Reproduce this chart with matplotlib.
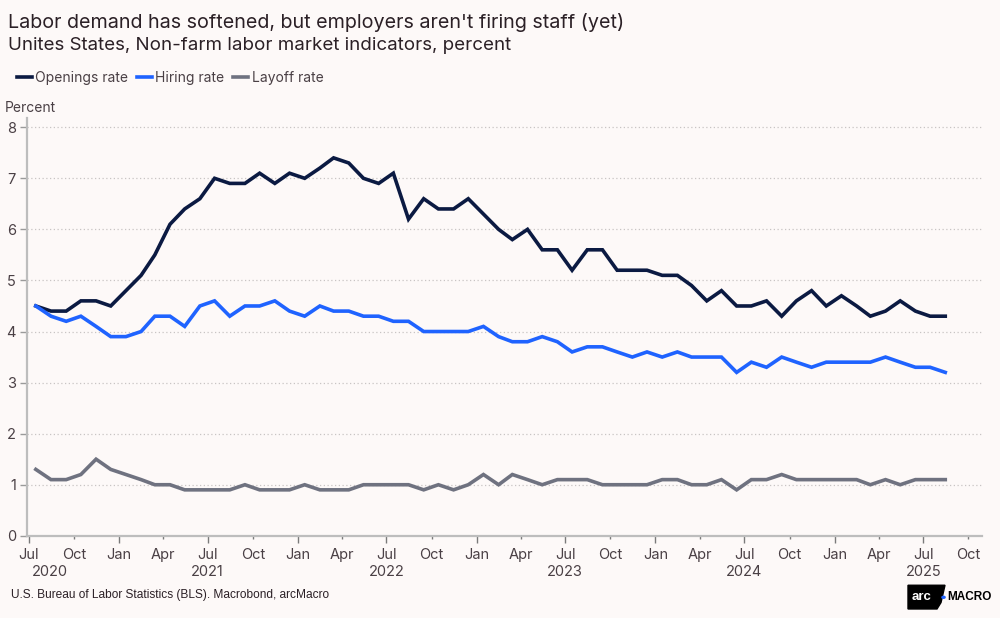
import matplotlib
matplotlib.use("Agg")
import matplotlib.pyplot as plt
import matplotlib.patches as mpatches
import matplotlib.transforms as mtransforms
import pandas as pd

# ---------------- data ----------------
start_month = "2020-07"
openings_rate = [
    4.5, 4.4, 4.4, 4.6, 4.6, 4.5,
    4.8, 5.1, 5.5, 6.1, 6.4, 6.6, 7.0, 6.9, 6.9, 7.1, 6.9, 7.1,
    7.0, 7.2, 7.4, 7.3, 7.0, 6.9, 7.1, 6.2, 6.6, 6.4, 6.4, 6.6,
    6.3, 6.0, 5.8, 6.0, 5.6, 5.6, 5.2, 5.6, 5.6, 5.2, 5.2, 5.2,
    5.1, 5.1, 4.9, 4.6, 4.8, 4.5, 4.5, 4.6, 4.3, 4.6, 4.8, 4.5,
    4.7, 4.5, 4.3, 4.4, 4.6, 4.4, 4.3, 4.3,
]
hiring_rate = [
    4.5, 4.3, 4.2, 4.3, 4.1, 3.9,
    3.9, 4.0, 4.3, 4.3, 4.1, 4.5, 4.6, 4.3, 4.5, 4.5, 4.6, 4.4,
    4.3, 4.5, 4.4, 4.4, 4.3, 4.3, 4.2, 4.2, 4.0, 4.0, 4.0, 4.0,
    4.1, 3.9, 3.8, 3.8, 3.9, 3.8, 3.6, 3.7, 3.7, 3.6, 3.5, 3.6,
    3.5, 3.6, 3.5, 3.5, 3.5, 3.2, 3.4, 3.3, 3.5, 3.4, 3.3, 3.4,
    3.4, 3.4, 3.4, 3.5, 3.4, 3.3, 3.3, 3.2,
]
layoff_rate = [
    1.3, 1.1, 1.1, 1.2, 1.5, 1.3,
    1.2, 1.1, 1.0, 1.0, 0.9, 0.9, 0.9, 0.9, 1.0, 0.9, 0.9, 0.9,
    1.0, 0.9, 0.9, 0.9, 1.0, 1.0, 1.0, 1.0, 0.9, 1.0, 0.9, 1.0,
    1.2, 1.0, 1.2, 1.1, 1.0, 1.1, 1.1, 1.1, 1.0, 1.0, 1.0, 1.0,
    1.1, 1.1, 1.0, 1.0, 1.1, 0.9, 1.1, 1.1, 1.2, 1.1, 1.1, 1.1,
    1.1, 1.1, 1.0, 1.1, 1.0, 1.1, 1.1, 1.1,
]
series_names = ["Openings rate", "Hiring rate", "Layoff rate"]
y_ticks = [0, 1, 2, 3, 4, 5, 6, 7, 8]
year_labels = ["2020", "2021", "2022", "2023", "2024", "2025"]

title = "Labor demand has softened, but employers aren't firing staff (yet)"
subtitle = "Unites States, Non-farm labor market indicators, percent"
source = "U.S. Bureau of Labor Statistics (BLS). Macrobond, arcMacro"

dates = pd.period_range(start_month, periods=len(openings_rate), freq="M").to_timestamp() + pd.Timedelta(days=14)

# ---------------- style ----------------
BG = "#fdf9f8"
TXT = "#2b2026"
TICK = "#4a4045"
colors = ["#0b1a42", "#1f63ff", "#6f7280"]
plt.rcParams["font.family"] = ["Inter", "DejaVu Sans"]

fig = plt.figure(figsize=(10, 6.18), dpi=100, facecolor=BG)
ax = fig.add_axes([0.027, 0.133, 0.955, 0.676])
ax.set_facecolor(BG)

for vals, name, c in zip([openings_rate, hiring_rate, layoff_rate], series_names, colors):
    ax.plot(dates, vals, color=c, lw=2.6, label=name, solid_joinstyle="miter")

ax.set_ylim(0, 8.18)
ax.set_xlim(pd.Timestamp("2020-06-27"), pd.Timestamp("2025-10-29"))
ax.set_yticks(y_ticks)
ax.set_yticklabels([str(v) for v in y_ticks])
ax.grid(axis="y", color="#c8c4c4", lw=0.9, ls=(0, (1, 2)))
ax.set_axisbelow(True)

for s in ["top", "right"]:
    ax.spines[s].set_visible(False)
for s in ["left", "bottom"]:
    ax.spines[s].set_color("#bdbdbd")
    ax.spines[s].set_linewidth(1.6)

ax.tick_params(axis="y", length=5, width=1, color="#9a9a9a", labelsize=10.5, labelcolor=TICK, pad=3)

# x ticks at quarters
qt = [d for d in pd.date_range("2020-07-01", "2025-10-01", freq="MS") if d.month in (1, 4, 7, 10)]
ax.set_xticks(qt)
ax.set_xticklabels([d.strftime("%b") for d in qt])
ax.tick_params(axis="x", width=1, color="#7a7a7a", labelsize=10.5, labelcolor=TICK, pad=4, length=5)
for d, t in zip(qt, ax.xaxis.get_major_ticks()):
    if d.month in (4, 10):
        t.tick1line.set_markersize(2.5)

# year labels under July ticks
trans = mtransforms.blended_transform_factory(ax.transData, ax.transAxes)
for i, yl in enumerate(year_labels):
    jul = pd.Timestamp(f"{yl}-07-01")
    if i == 0:
        off = mtransforms.offset_copy(trans, fig=fig, x=21, y=0, units="dots")
        ax.text(jul, -0.086, yl, transform=off, ha="center", va="center",
                fontsize=10.5, color=TICK, clip_on=False)
    else:
        ax.text(jul, -0.086, yl, transform=trans, ha="center", va="center",
                fontsize=10.5, color=TICK, clip_on=False)

# texts
fig.text(0.008, 0.963, title, fontsize=14.2, color=TXT, ha="left", va="center")
fig.text(0.008, 0.926, subtitle, fontsize=13.5, color=TXT, ha="left", va="center")
fig.text(0.005, 0.825, "Percent", fontsize=10, color=TICK, ha="left", va="center")
fig.text(0.011, 0.038, source, fontsize=8.6, color=TXT, ha="left", va="center",
         family=["Liberation Sans", "DejaVu Sans"])

leg = fig.legend(loc="center left", bbox_to_anchor=(0.004, 0.874), ncol=3, frameon=False,
                 fontsize=10, handlelength=1.1, handletextpad=0.25, columnspacing=0.6,
                 labelcolor=TICK)
for l in leg.get_lines():
    l.set_linewidth(2.6)

# logo
logo = mpatches.Polygon([[0.908, 0.0146], [0.937, 0.0146], [0.941, 0.025], [0.945, 0.053], [0.908, 0.053]],
                        closed=True, transform=fig.transFigure, color="#000000")
fig.patches.append(logo)
fig.text(0.9215, 0.0335, "arc", fontsize=9.5, color="white", weight="bold", ha="center", va="center",
         family=["Liberation Sans", "DejaVu Sans"])
fig.patches.append(mpatches.Circle((0.9435, 0.0335), 0.0016, transform=fig.transFigure, color="#1f63ff"))
fig.text(0.947, 0.0335, "MACRO", fontsize=8.5, color="black", weight="bold", ha="left", va="center",
         family=["Liberation Sans", "DejaVu Sans"])

fig.savefig("out.png", dpi=100, facecolor=BG)
